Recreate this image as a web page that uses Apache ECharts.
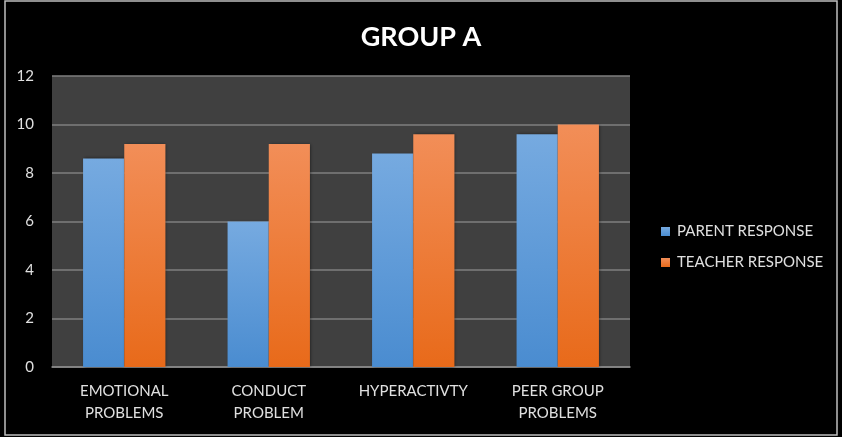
<!DOCTYPE html>
<html>
<head>
<meta charset="utf-8">
<script src="https://cdn.jsdelivr.net/npm/echarts@6/dist/echarts.min.js"></script>
<style>html,body{margin:0;padding:0;background:#000;}#c{width:842px;height:437px;}</style>
</head>
<body>
<div id="c"></div>
<script>
var categories = ['EMOTIONAL\nPROBLEMS', 'CONDUCT\nPROBLEM', 'HYPERACTIVTY', 'PEER GROUP\nPROBLEMS'];
var parentResponse = [8.6, 6.0, 8.8, 9.6];
var teacherResponse = [9.2, 9.2, 9.6, 10.0];
var yTicks = [0, 2, 4, 6, 8, 10, 12];

var chart = echarts.init(document.getElementById('c'));
var font = 'Lato, "Open Sans", sans-serif';
function grad(top, bottom) {
  return new echarts.graphic.LinearGradient(0, 0, 0, 1, [{offset: 0, color: top}, {offset: 1, color: bottom}]);
}
chart.setOption({
  backgroundColor: '#000',
  animation: false,
  title: {
    text: 'GROUP A', left: 'center', top: 19,
    textStyle: {color: '#fff', fontSize: 27, fontWeight: 'bold', fontFamily: font}
  },
  graphic: [{
    type: 'rect', shape: {x: 5, y: 1, width: 832, height: 434},
    style: {fill: 'none', stroke: '#bfbfbf', lineWidth: 1.5}, silent: true
  }],
  legend: {
    orient: 'vertical', left: 656, top: 219, itemWidth: 9, itemHeight: 9, itemGap: 16,
    icon: 'rect',
    textStyle: {color: '#e0e0e0', fontSize: 15, fontFamily: font, padding: [0, 0, 0, 2]},
    data: ['PARENT RESPONSE', 'TEACHER RESPONSE']
  },
  grid: {left: 52, right: 212, top: 76, bottom: 70, show: true, backgroundColor: '#404040', borderWidth: 0},
  xAxis: {
    type: 'category', data: categories,
    axisLine: {lineStyle: {color: '#8c8c8c', width: 1.5}},
    axisTick: {show: false},
    axisLabel: {color: '#e0e0e0', fontSize: 15, fontFamily: font, margin: 13, lineHeight: 22}
  },
  yAxis: {
    type: 'value', min: yTicks[0], max: yTicks[yTicks.length - 1], interval: 2,
    axisLine: {show: false}, axisTick: {show: false},
    splitLine: {lineStyle: {color: '#7f7f7f', width: 1.5}},
    axisLabel: {color: '#e0e0e0', fontSize: 15, fontFamily: font, margin: 18}
  },
  series: [{
    name: 'PARENT RESPONSE', type: 'bar', data: parentResponse,
    barGap: '0%', barCategoryGap: '43%',
    itemStyle: {color: grad('#76aae0', '#4a8cd0'), shadowColor: 'rgba(0,0,0,0.5)', shadowBlur: 3, shadowOffsetX: 1}
  }, {
    name: 'TEACHER RESPONSE', type: 'bar', data: teacherResponse,
    itemStyle: {color: grad('#f28e58', '#e86a1a'), shadowColor: 'rgba(0,0,0,0.5)', shadowBlur: 3, shadowOffsetX: 1}
  }]
});
</script>
</body>
</html>
